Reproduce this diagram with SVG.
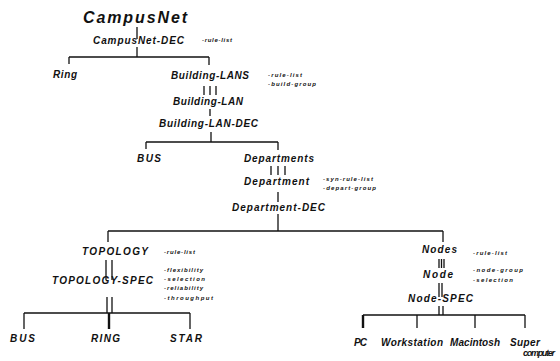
<svg xmlns="http://www.w3.org/2000/svg" width="560" height="361" viewBox="0 0 560 361">
<style>
text{font-family:"Liberation Sans",Arial,sans-serif;font-weight:bold;font-style:italic;fill:#111}
.l{font-size:10px}
.t{font-size:16px}
.a{font-size:6px}
.c line{stroke:#111;stroke-width:1.3;fill:none}
.c .k{stroke-width:2.4}
</style>
<rect width="560" height="361" fill="#fff"/>
<g class="c" id="connectors">
<line x1="137" y1="27" x2="137" y2="39"/>
<line x1="137" y1="47" x2="137" y2="57"/>
<line x1="69" y1="57" x2="209" y2="57"/>
<line x1="69" y1="57" x2="69" y2="64"/>
<line x1="209" y1="57" x2="209" y2="65"/>
<line x1="204" y1="86" x2="204" y2="95"/>
<line x1="210" y1="86" x2="210" y2="95"/>
<line x1="216" y1="86" x2="216" y2="95"/>
<line x1="210" y1="109" x2="210" y2="116"/>
<line x1="211" y1="132" x2="211" y2="142"/>
<line x1="146" y1="142" x2="278" y2="142"/>
<line x1="146" y1="142" x2="146" y2="149"/>
<line x1="278" y1="142" x2="278" y2="150"/>
<line x1="271" y1="166" x2="271" y2="175"/>
<line x1="278" y1="166" x2="278" y2="175"/>
<line x1="285" y1="166" x2="285" y2="175"/>
<line x1="278" y1="192" x2="278" y2="202"/>
<line x1="278" y1="214" x2="278" y2="231"/>
<line x1="108" y1="231" x2="443" y2="231"/>
<line x1="108" y1="231" x2="108" y2="242"/>
<line x1="443" y1="231" x2="443" y2="242"/>
<line x1="106" y1="260" x2="106" y2="280"/>
<line x1="112" y1="260" x2="112" y2="280"/>
<line x1="107" y1="297" x2="107" y2="313"/>
<line x1="112" y1="297" x2="112" y2="313"/>
<line x1="24" y1="313" x2="190" y2="313"/>
<line x1="24" y1="313" x2="24" y2="329"/>
<line class="k" x1="109" y1="313" x2="109" y2="329"/>
<line x1="190" y1="313" x2="190" y2="329"/>
<line x1="439" y1="259" x2="439" y2="268"/>
<line x1="441.5" y1="259" x2="441.5" y2="268"/>
<line x1="444" y1="259" x2="444" y2="268"/>
<line x1="439" y1="283" x2="439" y2="297"/>
<line x1="442" y1="283" x2="442" y2="297"/>
<line x1="439" y1="306" x2="439" y2="315"/>
<line x1="443" y1="306" x2="443" y2="315"/>
<line x1="363" y1="315" x2="525" y2="315"/>
<line class="k" x1="363" y1="315" x2="363" y2="328"/>
<line x1="417" y1="315" x2="417" y2="328"/>
<line x1="475" y1="315" x2="475" y2="328"/>
<line x1="525" y1="315" x2="525" y2="328"/>
</g>
<g id="campusnet"><text class="t" x="83" y="22.5" textLength="104">CampusNet</text></g>
<g id="campusnet-dec"><text class="l" x="93" y="44" textLength="91">CampusNet-DEC</text><text class="a" x="202" y="42" textLength="30">-rule-list</text></g>
<g id="ring"><text class="l" x="53" y="78" textLength="24">Ring</text></g>
<g id="building-lans"><text class="l" x="171" y="79" textLength="78">Building-LANS</text><text class="a" x="268" y="77" textLength="34">-rule-list</text><text class="a" x="268" y="86" textLength="48">-build-group</text></g>
<g id="building-lan"><text class="l" x="173" y="105" textLength="70">Building-LAN</text></g>
<g id="building-lan-dec"><text class="l" x="159" y="127" textLength="99">Building-LAN-DEC</text></g>
<g id="bus1"><text class="l" x="137" y="162" textLength="24">BUS</text></g>
<g id="departments"><text class="l" x="244" y="162" textLength="70">Departments</text></g>
<g id="department"><text class="l" x="244" y="185" textLength="65">Department</text><text class="a" x="323" y="181" textLength="50">-syn-rule-list</text><text class="a" x="323" y="190" textLength="53">-depart-group</text></g>
<g id="department-dec"><text class="l" x="232" y="211" textLength="93">Department-DEC</text></g>
<g id="topology"><text class="l" x="82" y="255" textLength="66">TOPOLOGY</text><text class="a" x="164" y="254" textLength="31">-rule-list</text></g>
<g id="topology-spec"><text class="l" x="52" y="284" textLength="101">TOPOLOGY-SPEC</text><text class="a" x="164" y="272" textLength="39">-flexibility</text><text class="a" x="164" y="281" textLength="41">-selection</text><text class="a" x="164" y="290" textLength="39">-reliability</text><text class="a" x="164" y="300" textLength="49">-throughput</text></g>
<g id="bus2"><text class="l" x="10" y="342" textLength="25">BUS</text></g>
<g id="ring2"><text class="l" x="91" y="342" textLength="29">RING</text></g>
<g id="star"><text class="l" x="170" y="342" textLength="32">STAR</text></g>
<g id="nodes"><text class="l" x="422" y="253" textLength="35">Nodes</text><text class="a" x="473" y="255" textLength="34">-rule-list</text></g>
<g id="node"><text class="l" x="423" y="278" textLength="30">Node</text><text class="a" x="473" y="272" textLength="50">-node-group</text><text class="a" x="473" y="282" textLength="40">-selection</text></g>
<g id="node-spec"><text class="l" x="408" y="302" textLength="65">Node-SPEC</text></g>
<g id="pc"><text class="l" x="354" y="346" textLength="13">PC</text></g>
<g id="workstation"><text class="l" x="381" y="346" textLength="62">Workstation</text></g>
<g id="macintosh"><text class="l" x="450" y="346" textLength="50">Macintosh</text></g>
<g id="supercomputer"><text class="l" x="510" y="346" textLength="30">Super</text><text class="l" x="523" y="356" textLength="32" style="font-size:9px">computer</text></g>
</svg>
